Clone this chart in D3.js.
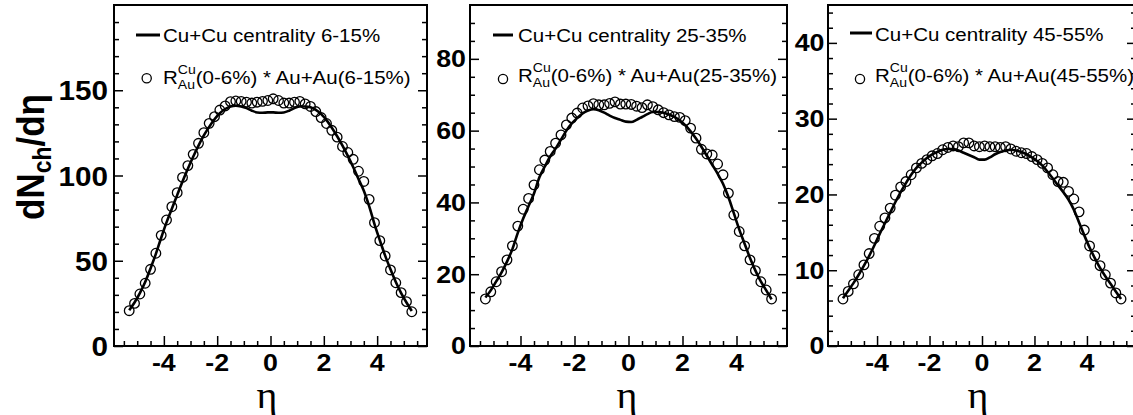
<!DOCTYPE html>
<html>
<head>
<meta charset="utf-8">
<script src="https://cdn.jsdelivr.net/npm/d3@7"></script>
<style>
	body { margin: 0; background: #fff; }
	svg { display: block; }
</style>
</head>
<body>
<div id="chart"></div>
<script>
// pseudorapidity bin centres (same for every panel)
const eta = [-5.3, -5.1, -4.9, -4.7, -4.5, -4.3, -4.1, -3.9, -3.7, -3.5, -3.3, -3.1, -2.9, -2.7, -2.5, -2.3, -2.1, -1.9, -1.7, -1.5, -1.3,
	-1.1, -0.9, -0.7, -0.5, -0.3, -0.1, 0.1, 0.3, 0.5, 0.7,
	0.9, 1.1, 1.3, 1.5, 1.7, 1.9, 2.1, 2.3, 2.5, 2.7, 2.9, 3.1, 3.3, 3.5, 3.7, 3.9, 4.1, 4.3, 4.5, 4.7, 4.9, 5.1, 5.3];

// Cu+Cu curves
const cuCu_6_15 = [21, 25.5, 31, 37.5, 45.5, 54, 63.5, 72.5, 80.5, 88.5, 96.5, 104, 111, 117.5, 123.5, 128.5, 133, 136.5, 139, 140.5, 141,
	140.5, 139.5, 138, 137, 136.8, 137, 137, 136.8, 137, 138,
	139.5, 140.5, 140.5, 140, 138.5, 136, 132.5, 128, 123, 117.5, 111.5, 105, 98, 91, 82, 71.5, 62, 53, 45, 37.5, 31, 25.5, 20.5];
const cuCu_25_35 = [13.5, 15.5, 18, 20.5, 23.5, 27, 31.5, 35.5, 39, 42.5, 47, 50, 52.8, 55, 57.5, 60, 62, 63.5, 64.8, 65.6, 66,
	65.7, 65, 64.2, 63.5, 63, 62.5, 62.4, 63, 63.8, 64.6,
	65.2, 65.2, 65, 64.5, 63.8, 62.8, 61.5, 59.8, 57.8, 55.5, 53, 50.5, 48, 45.2, 41.5, 37, 32.5, 28.5, 24.5, 21, 18, 15.5, 13];
const cuCu_45_55 = [6.3, 7.3, 8.3, 9.4, 10.6, 11.9, 13.3, 14.8, 16.2, 17.6, 19.0, 20.3, 21.5, 22.6, 23.5, 24.2, 24.8, 25.3, 25.6, 25.9,
	26.0, 26.0, 25.8, 25.5, 25.2, 24.9, 24.6, 24.6, 24.9, 25.3, 25.6, 25.8, 25.9, 25.8, 25.6, 25.3, 24.9, 24.4, 23.8, 23.0,
	22.1, 21.2, 20.3, 19.3, 18.0, 16.3, 14.6, 13.0, 11.6, 10.3, 9.2, 8.2, 7.2, 6.2];

// R_Au^Cu(0-6%) * Au+Au points
const auScaled_6_15 = [20.7, 25.0, 30.5, 36.8, 45.0, 54.4, 64.9, 73.9, 81.7, 89.9, 98.9, 105.8, 112.4, 118.9, 125.1, 130.6, 134.5, 138.4, 140.8, 143.3, 143.7,
	143.5, 143.0, 142.5, 143.0, 143.5, 144.0, 145.0, 144.0, 142.5, 142.5,
	143.0, 143.5, 142.0, 140.5, 137.5, 134.0, 130.5, 126.5, 122.5, 117.0, 113.5, 109.5, 102.5, 96.5, 86.0, 72.3, 61.8, 52.8, 44.6, 37.1, 31.3, 26.0, 20.1];
const auScaled_25_35 = [13.1, 15.1, 17.9, 20.7, 24.0, 27.9, 33.4, 38.1, 41.1, 44.9, 49.1, 51.8, 54.2, 56.5, 58.8, 61.6, 63.5, 64.9, 66.3, 66.9, 67.5,
	67.2, 67.2, 67.6, 68.0, 67.4, 67.4, 67.3, 66.8, 66.4, 67.2,
	66.7, 65.8, 65.0, 64.4, 63.9, 63.7, 62.8, 60.7, 57.9, 54.8, 53.5, 53.2, 50.7, 47.7, 42.6, 36.5, 31.9, 27.9, 24.0, 21.0, 17.9, 15.6, 13.1];
const auScaled_45_55 = [6.2, 7.2, 8.2, 9.4, 10.7, 12.2, 14.2, 15.8, 16.9, 18.2, 19.9, 21.0, 21.7, 22.6, 23.5, 24.1, 24.6, 25.1, 25.4, 25.9,
	26.2, 26.4, 26.3, 26.8, 26.8, 26.4, 26.3, 26.4, 26.3, 26.3, 26.2, 26.3, 26.0, 25.7, 25.5, 25.4, 25.0, 24.6, 24.1, 23.5,
	22.6, 21.7, 21.6, 20.4, 19.4, 17.7, 15.3, 13.2, 11.9, 10.6, 9.4, 8.3, 7.0, 6.2];

// legend / axis text
const centralities = ['6-15%', '25-35%', '45-55%'];
const etaTicks = [-4, -2, 0, 2, 4];
const yTicks1 = [0, 50, 100, 150];
const yTicks2 = [0, 20, 40, 60, 80];
const yTicks3 = [0, 10, 20, 30, 40];

const W = 1133, H = 415;
const SANS = 'Liberation Sans, Arial, Helvetica, sans-serif';

const svg = d3.select('#chart').append('svg')
	.attr('width', W)
	.attr('height', H);

// text that is a little wider than the font (the original is stretched sideways)
function stext(g, x, y, s, size, sx, anchor, weight, family) {
	return g.append('text')
		.attr('transform', `translate(${x},${y}) scale(${sx},1)`)
		.attr('text-anchor', anchor || 'start')
		.style('font-family', family || SANS)
		.style('font-size', size + 'px')
		.style('font-weight', weight || 'normal')
		.attr('fill', '#000')
		.text(s);
}

const panels = [
	{ line: cuCu_6_15, pts: auScaled_6_15, cent: centralities[0], yMax: 200, yTicks: yTicks1, yMinor: 10,
		x0: 114, x1: 427, yLab: { size: 28, sx: 1.06, gap: 6, dy: 10 },
		leg: { lx0: 136, lx1: 160, ly: 35, tx: 163, ty1: 41.7, mx: 146.7, my: 78.3, ty2: 83.5, space: '' },
		etaLab: { x: 267, y: 408 } },
	{ line: cuCu_25_35, pts: auScaled_25_35, cent: centralities[1], yMax: 95, yTicks: yTicks2, yMinor: 5,
		x0: 470, x1: 787, yLab: { size: 23.5, sx: 1.14, gap: 4, dy: 8.4 },
		leg: { lx0: 493, lx1: 513, ly: 35, tx: 518, ty1: 42, mx: 503, my: 79, ty2: 81.5, space: ' ' },
		etaLab: { x: 627, y: 408 } },
	{ line: cuCu_45_55, pts: auScaled_45_55, cent: centralities[2], yMax: 45, yTicks: yTicks3, yMinor: 2,
		x0: 828, x1: 1136, yLab: { size: 23.5, sx: 1.14, gap: 3.5, dy: 8.4 },
		leg: { lx0: 850, lx1: 872, ly: 33, tx: 875, ty1: 41, mx: 860, my: 79, ty2: 81.5, space: '' },
		etaLab: { x: 978, y: 408 } }
];

const yTop = 5, yBot = 346;

panels.forEach(p => {
	const g = svg.append('g');

	const x = d3.scaleLinear().domain([-5.87, 5.87]).range([p.x0, p.x1]);
	const y = d3.scaleLinear().domain([0, p.yMax]).range([yBot, yTop]);

	const yMinorVals = d3.range(0, p.yMax, p.yMinor).filter(v => !p.yTicks.includes(v));
	const xMinorVals = d3.range(-5.5, 5.51, 0.5).filter(v => !etaTicks.includes(v));

	function tickAxis(axis, tr) {
		const a = g.append('g').attr('transform', tr).call(axis);
		a.select('.domain').remove();
		a.selectAll('line').attr('stroke', '#000').attr('stroke-width', 1.5);
	}
	// ticks pointing into the frame
	tickAxis(d3.axisLeft(y).tickValues(p.yTicks).tickSize(-9).tickFormat(''), `translate(${p.x0},0)`);
	tickAxis(d3.axisLeft(y).tickValues(yMinorVals).tickSize(-5).tickFormat(''), `translate(${p.x0},0)`);
	tickAxis(d3.axisRight(y).tickValues(p.yTicks).tickSize(-9).tickFormat(''), `translate(${p.x1},0)`);
	tickAxis(d3.axisRight(y).tickValues(yMinorVals).tickSize(-5).tickFormat(''), `translate(${p.x1},0)`);
	tickAxis(d3.axisBottom(x).tickValues(etaTicks).tickSize(-10).tickFormat(''), `translate(0,${yBot})`);
	tickAxis(d3.axisBottom(x).tickValues(xMinorVals).tickSize(-5).tickFormat(''), `translate(0,${yBot})`);

	// frame
	g.append('rect')
		.attr('x', p.x0).attr('y', yTop)
		.attr('width', p.x1 - p.x0).attr('height', yBot - yTop)
		.attr('fill', 'none').attr('stroke', '#000').attr('stroke-width', 2);

	// tick labels (plain hyphen for the minus, as in the original)
	p.yTicks.forEach(v => {
		stext(g, p.x0 - p.yLab.gap, y(v) + p.yLab.dy, String(v), p.yLab.size, p.yLab.sx, 'end', 'bold');
	});
	etaTicks.forEach(v => {
		stext(g, x(v), 371, String(v), 23.5, 1.14, 'middle', 'bold');
	});

	// eta axis title
	stext(g, p.etaLab.x, p.etaLab.y, 'η', 38, 1.05, 'middle', 'normal', 'Liberation Serif, Times New Roman, serif');

	// Cu+Cu curve
	const line = d3.line()
		.x((d, i) => x(eta[i]))
		.y(d => y(d))
		.curve(d3.curveMonotoneX);
	g.append('path')
		.datum(p.line)
		.attr('d', line)
		.attr('fill', 'none')
		.attr('stroke', '#000')
		.attr('stroke-width', 2.6);

	// scaled Au+Au points
	g.selectAll('circle.pt')
		.data(p.pts)
		.enter().append('circle')
		.attr('class', 'pt')
		.attr('cx', (d, i) => x(eta[i]))
		.attr('cy', d => y(d))
		.attr('r', 4.8)
		.attr('fill', 'none')
		.attr('stroke', '#000')
		.attr('stroke-width', 1.3);

	// legend
	const L = p.leg;
	g.append('line')
		.attr('x1', L.lx0).attr('x2', L.lx1)
		.attr('y1', L.ly).attr('y2', L.ly)
		.attr('stroke', '#000').attr('stroke-width', 3);
	stext(g, L.tx, L.ty1, 'Cu+Cu centrality ' + p.cent, 19, 1.08);

	g.append('circle')
		.attr('cx', L.mx).attr('cy', L.my).attr('r', 4.6)
		.attr('fill', 'none').attr('stroke', '#000').attr('stroke-width', 1.3);
	const r = stext(g, L.tx, L.ty2, 'R', 19, 1.08);
	const rw = r.node().getComputedTextLength() * 1.08;
	const sup = stext(g, L.tx + rw, L.ty2 - 10, 'Cu', 13, 1.08);
	const sub = stext(g, L.tx + rw, L.ty2 + 5, 'Au', 13, 1.08);
	const sw = Math.max(sup.node().getComputedTextLength(), sub.node().getComputedTextLength()) * 1.08;
	stext(g, L.tx + rw + sw, L.ty2, L.space + '(0-6%) * Au+Au(' + p.cent + ')', 19, 1.08);
});

// y axis title
const yl = svg.append('text')
	.attr('transform', 'translate(44,157) rotate(-90) scale(0.92,1)')
	.attr('text-anchor', 'middle')
	.style('font-family', SANS)
	.style('font-size', '38px')
	.style('font-weight', 'bold');
yl.append('tspan').text('dN');
yl.append('tspan').attr('dy', 7).style('font-size', '25px').text('ch');
yl.append('tspan').attr('dy', -7).text('/dη');
</script>
</body>
</html>
